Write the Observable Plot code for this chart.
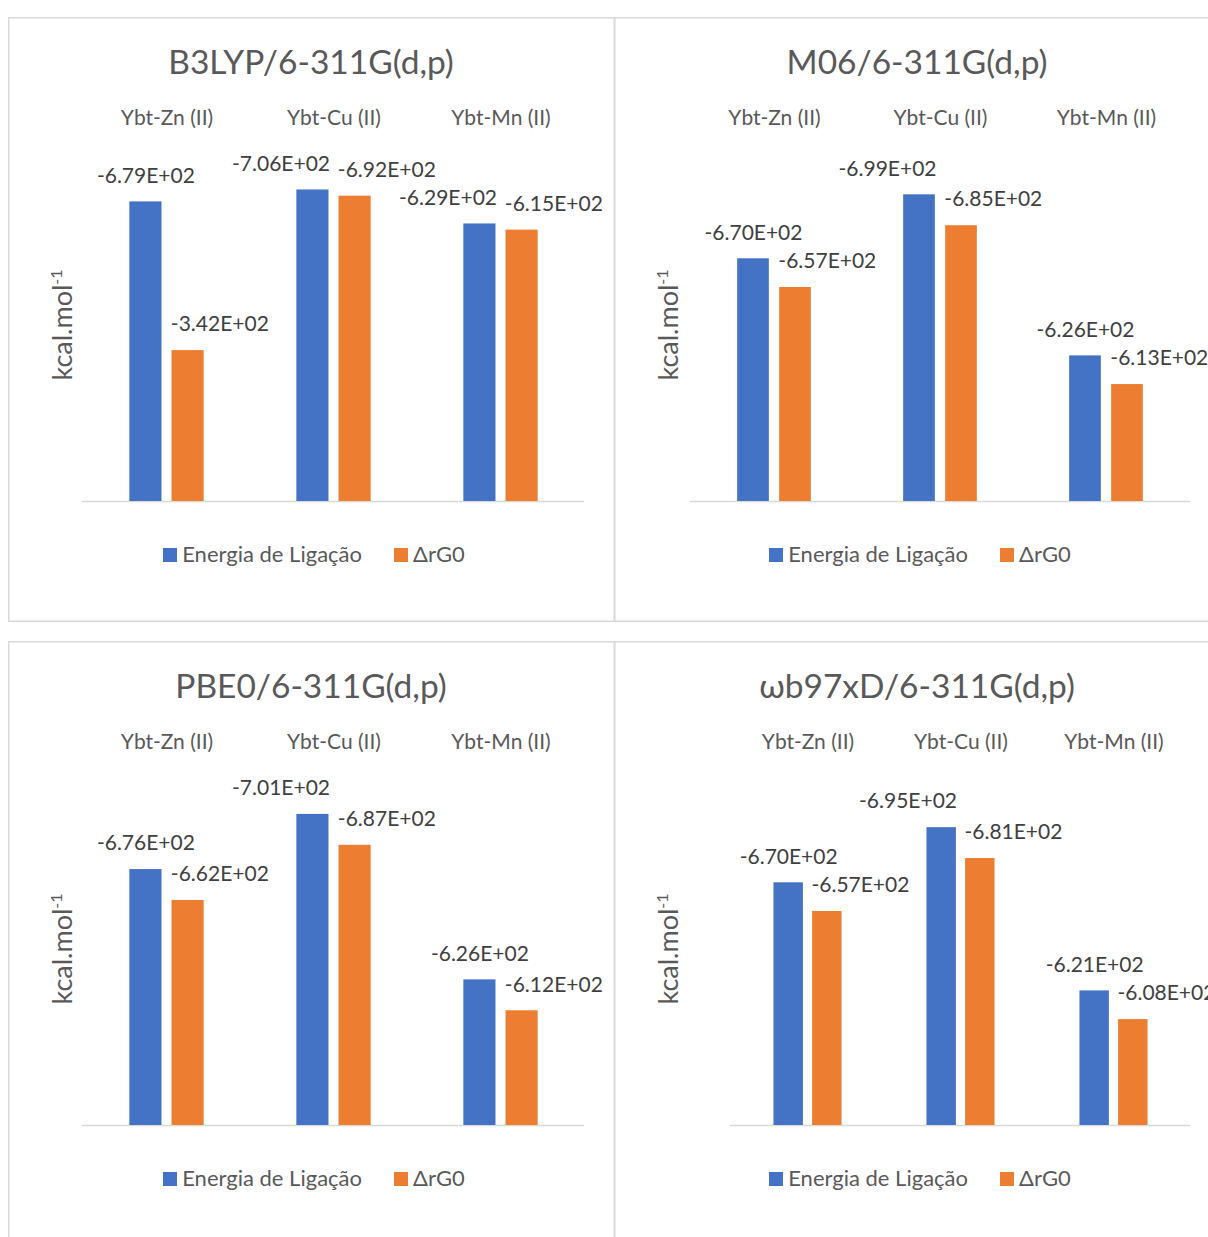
<!DOCTYPE html>
<html><head><meta charset="utf-8">
<script src="https://cdn.jsdelivr.net/npm/d3@7"></script>
<script src="https://cdn.jsdelivr.net/npm/@observablehq/plot@0.6"></script>
<style>
body{margin:0;background:#fff;}
#root{position:relative;width:1208px;height:1237px;overflow:hidden;font-family:Lato, "Open Sans", sans-serif;}
.panel{position:absolute;width:607px;height:605px;background:#fff;box-shadow:inset 0 0 0 1.5px #d9d9d9;}
.title{position:absolute;left:0;width:606px;top:24px;text-align:center;font-size:33.5px;line-height:40px;color:#595959;white-space:nowrap;}
.ytitle{position:absolute;left:54px;top:308px;transform:translate(-50%,-50%) rotate(-90deg);font-size:27px;color:#595959;white-space:nowrap;line-height:30px;}
.ytitle sup{font-size:16px;vertical-align:10px;line-height:0;}
.legend{position:absolute;left:0;width:612px;top:524px;text-align:center;font-size:22px;line-height:26px;color:#595959;white-space:nowrap;}
.item{display:inline-block;margin:0 16px;}
.sw{display:inline-block;width:14px;height:14px;margin-right:5px;vertical-align:0px;}
.plot{position:absolute;left:0;top:80px;}
</style>
</head><body>
<div id="root"></div>
<script>
const categories = ["Ybt-Zn (II)", "Ybt-Cu (II)", "Ybt-Mn (II)"];
const series = ["Energia de Ligação", "ΔrG0"];
const seriesColors = ["#4472c4", "#ed7d31"];
const methods = ["B3LYP/6-311G(d,p)", "M06/6-311G(d,p)", "PBE0/6-311G(d,p)", "ωb97xD/6-311G(d,p)"];

const b3lypEnergia = [-679, -706, -629];
const b3lypDrG0    = [-342, -692, -615];
const m06Energia   = [-670, -699, -626];
const m06DrG0      = [-657, -685, -613];
const pbe0Energia  = [-676, -701, -626];
const pbe0DrG0     = [-662, -687, -612];
const wb97Energia  = [-670, -695, -621];
const wb97DrG0     = [-657, -681, -608];

const yDomains = [[0, 800], [560, 720], [560, 720], [560, 720]];

const panels = [
  {title: methods[0], energia: b3lypEnergia, drg0: b3lypDrG0, domain: yDomains[0], left: 8,   top: 17,  ml: 74},
  {title: methods[1], energia: m06Energia,   drg0: m06DrG0,   domain: yDomains[1], left: 614, top: 17,  ml: 76},
  {title: methods[2], energia: pbe0Energia,  drg0: pbe0DrG0,  domain: yDomains[2], left: 8,   top: 641, ml: 74},
  {title: methods[3], energia: wb97Energia,  drg0: wb97DrG0,  domain: yDomains[3], left: 614, top: 641, ml: 116}
];

function fmt(v) {
  const [m, e] = v.toExponential(2).split("e");
  const ei = +e;
  return m + "E" + (ei < 0 ? "-" : "+") + String(Math.abs(ei)).padStart(2, "0");
}

const root = document.getElementById("root");
const W = 606, H = 440, MT = 51, MB = 36, MR = 30;
const LABEL_SIZE = 21;

panels.forEach(p => {
  const div = document.createElement("div");
  div.className = "panel";
  div.style.left = p.left + "px";
  div.style.top = p.top + "px";
  root.appendChild(div);

  const t = document.createElement("div");
  t.className = "title"; t.textContent = p.title;
  div.appendChild(t);

  const yt = document.createElement("div");
  yt.className = "ytitle"; yt.innerHTML = "kcal.mol<sup>-1</sup>";
  div.appendChild(yt);

  const lg = document.createElement("div");
  lg.className = "legend";
  lg.innerHTML = series.map((s, i) => `<span class="item"><span class="sw" style="background:${seriesColors[i]}"></span>${s}</span>`).join("");
  div.appendChild(lg);

  const blue = categories.map((c, i) => ({category: c, series: series[0], value: p.energia[i], other: p.drg0[i]}));
  const orange = categories.map((c, i) => ({category: c, series: series[1], value: p.drg0[i]}));

  const step = (W - p.ml - MR) / categories.length;
  const bw = step * 0.194, gap = step * 0.058;
  const ymin = p.domain[0];
  const pxPerUnit = (H - MT - MB) / (p.domain[1] - p.domain[0]);
  const tallest = d3.min(p.energia);
  // shift a blue label left when it would collide with its neighbour, or when it tops the tallest bar
  const shifted = d => Math.abs(d.value - d.other) * pxPerUnit < 24 || d.value === tallest;

  const chart = Plot.plot({
    width: W, height: H,
    marginTop: MT, marginBottom: MB, marginLeft: p.ml, marginRight: MR,
    style: {fontFamily: "Lato, 'Open Sans', sans-serif", fontSize: "21px", color: "#595959", background: "transparent", overflow: "visible"},
    x: {domain: categories, padding: 0, axis: "top", tickSize: 0, tickPadding: 24, label: null},
    y: {domain: p.domain, axis: null},
    color: {domain: series, range: seriesColors},
    marks: [
      Plot.ruleY([ymin], {stroke: "#d9d9d9", strokeWidth: 1.5}),
      Plot.barY(blue, {x: "category", y1: ymin, y2: d => -d.value, fill: "series",
        insetLeft: step / 2 - gap / 2 - bw, insetRight: step / 2 + gap / 2}),
      Plot.barY(orange, {x: "category", y1: ymin, y2: d => -d.value, fill: "series",
        insetLeft: step / 2 + gap / 2, insetRight: step / 2 - gap / 2 - bw}),
      Plot.text(blue.filter(d => !shifted(d)), {x: "category", y: d => -d.value, text: d => fmt(d.value),
        dx: -(gap / 2 + bw / 2), dy: -26, fill: "#404040", fontSize: LABEL_SIZE}),
      Plot.text(blue.filter(shifted), {x: "category", y: d => -d.value, text: d => fmt(d.value),
        textAnchor: "end", dx: -4, dy: -26, fill: "#404040", fontSize: LABEL_SIZE}),
      Plot.text(orange, {x: "category", y: d => -d.value, text: d => fmt(d.value),
        textAnchor: "start", dx: gap / 2 - 1, dy: -26, fill: "#404040", fontSize: LABEL_SIZE})
    ]
  });
  chart.classList.add("plot");
  div.appendChild(chart);
});
</script>
</body></html>
